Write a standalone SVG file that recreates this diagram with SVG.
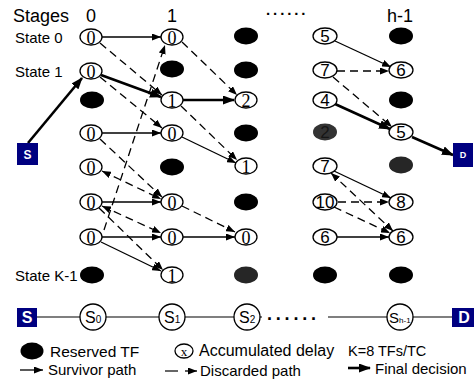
<svg xmlns="http://www.w3.org/2000/svg" width="474" height="379" viewBox="0 0 474 379">
<style>
.bg{fill:#fff}
.w{fill:#fff;stroke:#000;stroke-width:1.3}
.b{fill:#000}
.g{fill:#262626}
.sd{font-family:"Liberation Serif","Times New Roman",serif;font-size:18px;text-anchor:middle;fill:#000}
.sn{font-family:"Liberation Sans",Arial,sans-serif;font-size:17px;text-anchor:middle;fill:#000}
.lb{font-family:"Liberation Sans",Arial,sans-serif;fill:#000}
.box{fill:#000080}
.bt{font-family:"Liberation Sans",Arial,sans-serif;font-weight:bold;fill:#fff;text-anchor:middle}
.s{stroke:#000;stroke-width:1.3;fill:none;marker-end:url(#a)}
.d{stroke:#000;stroke-width:1.3;fill:none;stroke-dasharray:8,5;marker-end:url(#a)}
.f{stroke:#000;stroke-width:2.6;fill:none;marker-end:url(#ab)}
.ln{stroke:#000;stroke-width:1.2;fill:none}
</style>
<defs>
<marker id="a" markerUnits="userSpaceOnUse" markerWidth="9" markerHeight="7" refX="9" refY="3.5" orient="auto"><path d="M0,0 L9,3.5 L0,7 z" fill="#000"/></marker>
<marker id="as" markerUnits="userSpaceOnUse" markerWidth="9" markerHeight="7" refX="9" refY="3.5" orient="auto-start-reverse"><path d="M0,0 L9,3.5 L0,7 z" fill="#000"/></marker>
<marker id="ab" markerUnits="userSpaceOnUse" markerWidth="12" markerHeight="9" refX="11" refY="4.5" orient="auto"><path d="M0,0 L12,4.5 L0,9 z" fill="#000"/></marker>
</defs>
<rect class="bg" x="0" y="0" width="474" height="379"/>

<g id="labels">
<text class="lb" x="13" y="22" font-size="18">Stages</text>
<text class="lb" x="91" y="22" font-size="18" text-anchor="middle">0</text>
<text class="lb" x="172" y="22" font-size="18" text-anchor="middle">1</text>
<text class="lb" x="266" y="15" font-size="15" font-weight="bold" letter-spacing="2.9">......</text>
<text class="lb" x="400" y="22" font-size="18" text-anchor="middle">h-1</text>
<text class="lb" x="15" y="43" font-size="15">State 0</text>
<text class="lb" x="15" y="77" font-size="15">State 1</text>
<text class="lb" x="15" y="281" font-size="15">State K-1</text>
</g>

<g id="connectors">
<line class="f" x1="28" y1="143" x2="82" y2="78"/>
<line class="s" x1="102" y1="37" x2="161" y2="37"/>
<line class="d" x1="100" y1="43" x2="162" y2="95"/>
<line class="f" x1="101" y1="75" x2="161" y2="97"/>
<line class="d" x1="100" y1="77" x2="162" y2="128"/>
<line class="s" x1="102" y1="133" x2="161" y2="133"/>
<line class="d" x1="100" y1="139" x2="162" y2="197"/>
<line class="d" x1="102" y1="171" x2="161" y2="199" marker-start="url(#as)"/>
<line class="s" x1="102" y1="202" x2="161" y2="202"/>
<line class="d" x1="102" y1="206" x2="161" y2="233" marker-start="url(#as)"/>
<line class="d" x1="99" y1="208" x2="163" y2="270"/>
<line class="d" x1="104" y1="230" x2="165" y2="45"/>
<line class="s" x1="102" y1="237" x2="161" y2="237"/>
<line class="s" x1="101" y1="242" x2="161" y2="271"/>
<line class="d" x1="182" y1="42" x2="237" y2="95"/>
<line class="f" x1="183" y1="100" x2="234" y2="100"/>
<line class="d" x1="181" y1="106" x2="237" y2="160"/>
<line class="s" x1="182" y1="137" x2="236" y2="163"/>
<line class="d" x1="182" y1="206" x2="235" y2="232"/>
<line class="s" x1="183" y1="237" x2="235" y2="237"/>
<line class="s" x1="335" y1="41" x2="391" y2="67"/>
<line class="d" x1="337" y1="71" x2="389" y2="71"/>
<line class="d" x1="333" y1="77" x2="392" y2="127"/>
<line class="f" x1="335" y1="104" x2="390" y2="129"/>
<line class="f" x1="412" y1="137" x2="453" y2="155"/>
<line class="s" x1="334" y1="171" x2="391" y2="198"/>
<line class="d" x1="331" y1="173" x2="393" y2="231" marker-start="url(#as)"/>
<line class="d" x1="338" y1="202" x2="389" y2="202"/>
<line class="d" x1="334" y1="207" x2="390" y2="233"/>
<line class="s" x1="337" y1="237" x2="389" y2="237"/>
</g>

<g id="S"><rect class="box" x="17" y="143" width="21" height="22"/><text class="bt" x="27.5" y="159" font-size="12">S</text></g>
<g id="D"><rect class="box" x="453" y="143" width="20" height="24"/><text class="bt" x="463" y="158" font-size="9">D</text></g>

<g id="n0_0"><ellipse class="w" cx="91" cy="37" rx="11" ry="8"/><text class="sd" x="91" y="44">0</text></g>
<g id="n0_1"><ellipse class="w" cx="91" cy="71" rx="11" ry="8"/><text class="sd" x="91" y="78">0</text></g>
<g id="n0_2"><ellipse class="b" cx="92" cy="100" rx="12" ry="8.5"/></g>
<g id="n0_3"><ellipse class="w" cx="91" cy="133" rx="11" ry="8"/><text class="sd" x="91" y="140">0</text></g>
<g id="n0_4"><ellipse class="w" cx="91" cy="167" rx="11" ry="8"/><text class="sd" x="91" y="174">0</text></g>
<g id="n0_5"><ellipse class="w" cx="91" cy="202" rx="11" ry="8"/><text class="sd" x="91" y="209">0</text></g>
<g id="n0_6"><ellipse class="w" cx="91" cy="237" rx="11" ry="8"/><text class="sd" x="91" y="244">0</text></g>
<g id="n0_7"><ellipse class="b" cx="92" cy="275" rx="12" ry="8.5"/></g>

<g id="n1_0"><ellipse class="w" cx="172" cy="37" rx="11" ry="8"/><text class="sd" x="172" y="44">0</text></g>
<g id="n1_1"><ellipse class="b" cx="172" cy="69" rx="12" ry="8.5"/></g>
<g id="n1_2"><ellipse class="w" cx="172" cy="100" rx="11" ry="8"/><text class="sd" x="172" y="107">1</text></g>
<g id="n1_3"><ellipse class="w" cx="172" cy="133" rx="11" ry="8"/><text class="sd" x="172" y="140">0</text></g>
<g id="n1_4"><ellipse class="b" cx="172" cy="167" rx="12" ry="8.5"/></g>
<g id="n1_5"><ellipse class="w" cx="172" cy="202" rx="11" ry="8"/><text class="sd" x="172" y="209">0</text></g>
<g id="n1_6"><ellipse class="w" cx="172" cy="237" rx="11" ry="8"/><text class="sd" x="172" y="244">0</text></g>
<g id="n1_7"><ellipse class="w" cx="172" cy="275" rx="11" ry="8"/><text class="sd" x="172" y="282">1</text></g>

<g id="n2_0"><ellipse class="b" cx="246" cy="36" rx="12" ry="8.5"/></g>
<g id="n2_1"><ellipse class="b" cx="246" cy="70" rx="12" ry="8.5"/></g>
<g id="n2_2"><ellipse class="w" cx="246" cy="100" rx="11" ry="8"/><text class="sd" x="246" y="107">2</text></g>
<g id="n2_3"><ellipse class="b" cx="246" cy="133" rx="12" ry="8.5"/></g>
<g id="n2_4"><ellipse class="w" cx="246" cy="166" rx="11" ry="8"/><text class="sd" x="246" y="173">1</text></g>
<g id="n2_5"><ellipse class="b" cx="246" cy="202" rx="12" ry="8.5"/></g>
<g id="n2_6"><ellipse class="w" cx="246" cy="237" rx="11" ry="8"/><text class="sd" x="246" y="244">0</text></g>
<g id="n2_7"><ellipse class="g" cx="246" cy="275" rx="12" ry="8.5"/></g>

<g id="n3_0"><ellipse class="w" cx="325" cy="36" rx="12" ry="8"/><text class="sn" x="325" y="42">5</text></g>
<g id="n3_1"><ellipse class="w" cx="325" cy="70" rx="12" ry="8"/><text class="sn" x="325" y="76">7</text></g>
<g id="n3_2"><ellipse class="w" cx="325" cy="100" rx="12" ry="8"/><text class="sn" x="325" y="106">4</text></g>
<g id="n3_3"><ellipse fill="#333" cx="325" cy="132" rx="12" ry="8.5"/><text class="sn" x="325" y="138" style="fill:#151515">2</text></g>
<g id="n3_4"><ellipse class="w" cx="325" cy="166" rx="12" ry="8"/><text class="sn" x="325" y="172">7</text></g>
<g id="n3_5"><ellipse class="w" cx="325" cy="202" rx="12" ry="8"/><text class="sn" x="325" y="208">10</text></g>
<g id="n3_6"><ellipse class="w" cx="325" cy="237" rx="12" ry="8"/><text class="sn" x="325" y="243">6</text></g>
<g id="n3_7"><ellipse class="b" cx="325" cy="275" rx="12" ry="8.5"/></g>

<g id="n4_0"><ellipse class="b" cx="401" cy="36" rx="12" ry="8.5"/></g>
<g id="n4_1"><ellipse class="w" cx="401" cy="70" rx="12" ry="8"/><text class="sn" x="401" y="76">6</text></g>
<g id="n4_2"><ellipse class="b" cx="401" cy="100" rx="12" ry="8.5"/></g>
<g id="n4_3"><ellipse class="w" cx="401" cy="132" rx="12" ry="8"/><text class="sn" x="401" y="138">5</text></g>
<g id="n4_4"><ellipse class="g" cx="401" cy="165" rx="12" ry="8.5"/></g>
<g id="n4_5"><ellipse class="w" cx="401" cy="202" rx="12" ry="8"/><text class="sn" x="401" y="208">8</text></g>
<g id="n4_6"><ellipse class="w" cx="401" cy="237" rx="12" ry="8"/><text class="sn" x="401" y="243">6</text></g>
<g id="n4_7"><ellipse class="b" cx="401" cy="275" rx="12" ry="8.5"/></g>

<g id="chain">
<line class="ln" x1="37" y1="317" x2="262" y2="317"/>
<line class="ln" x1="328" y1="317" x2="452" y2="317"/>
<text class="lb" x="267" y="320" font-size="18" font-weight="bold" letter-spacing="3.8">......</text>
<rect class="box" x="17" y="308" width="20" height="19"/><text class="bt" x="27" y="323" font-size="16">S</text>
<rect class="box" x="452" y="308" width="22" height="19"/><text class="bt" x="464" y="323" font-size="16">D</text>
<circle class="w" cx="93" cy="317" r="13"/><text class="lb" x="85" y="323" font-size="16">S<tspan font-size="10">0</tspan></text>
<circle class="w" cx="172" cy="317" r="13"/><text class="lb" x="164" y="323" font-size="16">S<tspan font-size="10">1</tspan></text>
<circle class="w" cx="247" cy="317" r="13"/><text class="lb" x="239" y="323" font-size="16">S<tspan font-size="10">2</tspan></text>
<circle class="w" cx="400" cy="317" r="13"/><text class="lb" x="389" y="323" font-size="15">S<tspan font-size="8">h-1</tspan></text>
</g>

<g id="legend">
<ellipse class="b" cx="32" cy="351" rx="11.5" ry="8.5"/>
<text class="lb" x="50" y="357" font-size="15.5">Reserved TF</text>
<ellipse class="w" cx="184" cy="351" rx="9" ry="7"/>
<text class="sd" x="184" y="356" style="font-size:13px">x</text>
<text class="lb" x="199" y="356" font-size="16">Accumulated delay</text>
<text class="lb" x="348" y="356" font-size="14.5">K=8 TFs/TC</text>
<line class="s" x1="20" y1="370" x2="43" y2="370"/>
<text class="lb" x="48" y="375" font-size="15">Survivor path</text>
<line class="ln" x1="165" y1="371" x2="178" y2="371"/>
<line class="s" x1="185" y1="371" x2="197" y2="371"/>
<text class="lb" x="200" y="376" font-size="15">Discarded path</text>
<line class="f" x1="348" y1="368" x2="370" y2="368"/>
<text class="lb" x="375" y="374" font-size="15">Final decision</text>
</g>
</svg>
